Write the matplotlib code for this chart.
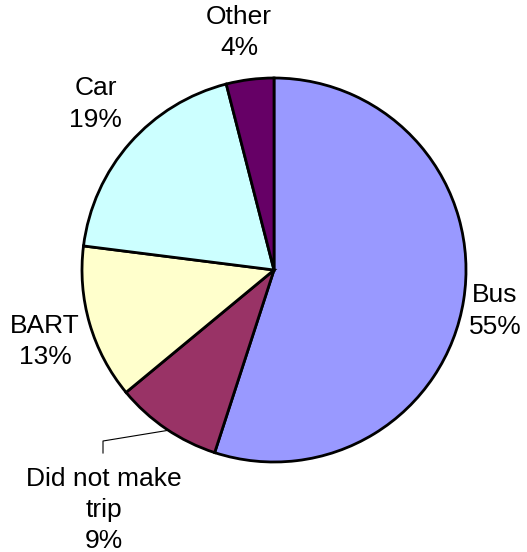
import numpy as np
import matplotlib.pyplot as plt

plt.rcParams['font.family'] = ['Liberation Sans', 'DejaVu Sans']

# slices, clockwise from 12 o'clock
labels = ['Bus', 'Did not make\ntrip', 'BART', 'Car', 'Other']
shares = [55, 9, 13, 19, 4]
colors = ['#9999FF', '#993366', '#FFFFCC', '#CCFFFF', '#660066']
# how far out each label sits (in radii)
label_dist = [1.17, 1.53, 1.25, 1.27, 1.25]
label_shift = [-1.5, -1.1, 1.2, -1.5, 1.2]  # small angle nudges, degrees


def main():
    fig = plt.figure(figsize=(5.27, 5.52), dpi=100)
    ax = fig.add_axes([0, 0, 1, 1])
    px = 192.0  # pixels per radius

    wedges, _ = ax.pie(shares, colors=colors, startangle=90, counterclock=False,
                       radius=1.0, center=(0, 0), frame=True,
                       wedgeprops=dict(edgecolor='black', linewidth=2))
    ax.set_xlim(-274 / px, (527 - 274) / px)
    ax.set_ylim(-(552 - 270) / px, 270 / px)
    ax.axis('off')

    for w, lab, s, d, sh in zip(wedges, labels, shares, label_dist, label_shift):
        mid = np.deg2rad((w.theta1 + w.theta2) / 2 + sh)
        x, y = d * np.cos(mid), d * np.sin(mid)
        ax.text(x, y, f'{lab}\n{s}%', ha='center', va='center', fontsize=19,
                linespacing=1.38)

    # leader line for the small slice
    w = wedges[1]
    a = np.deg2rad((w.theta1 + w.theta2) / 2 + 0.8)
    ax.plot([np.cos(a), -171 / px, -171 / px],
            [np.sin(a), -171 / px, -183 / px], color='black', lw=0.8)

    fig.savefig('out.png', dpi=100)


if __name__ == '__main__':
    main()
